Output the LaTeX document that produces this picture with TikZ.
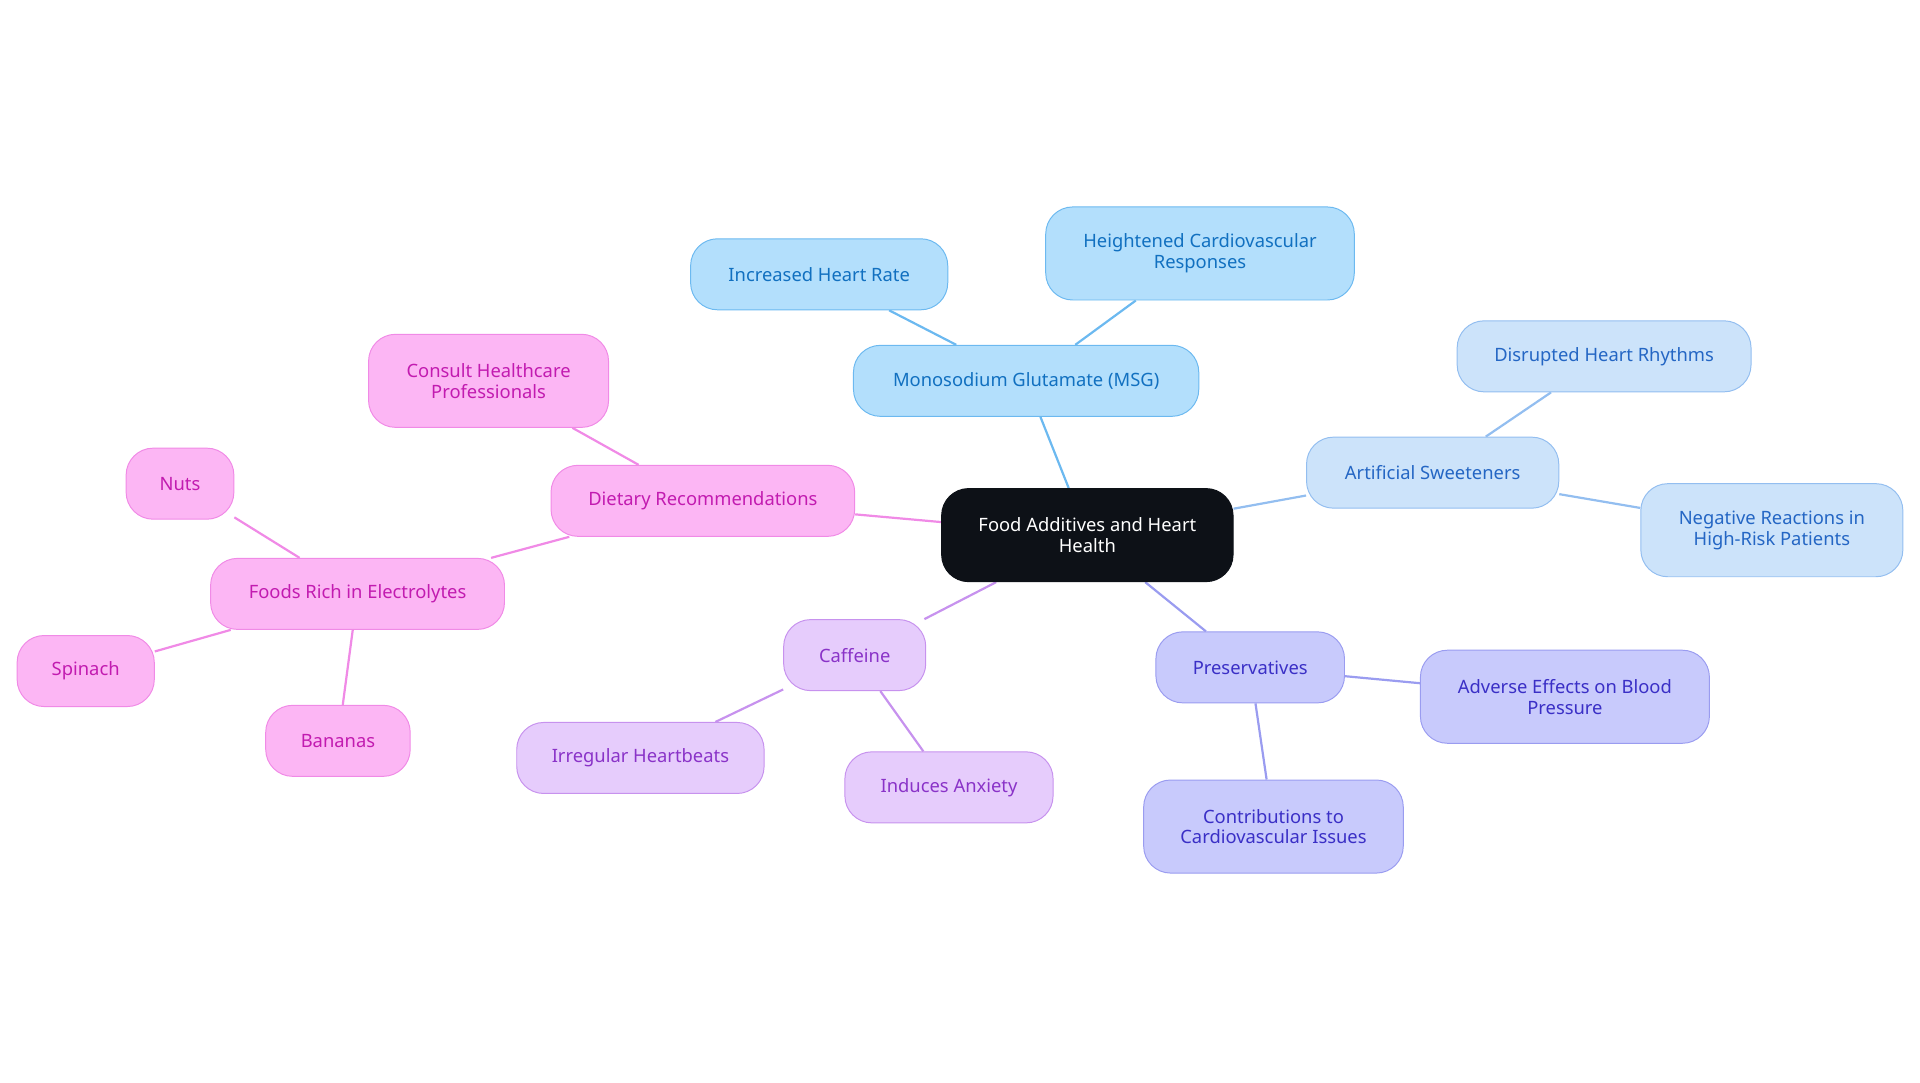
\documentclass[tikz,border=0pt]{standalone}
\usepackage{fontspec}
\setmainfont{Noto Sans}
\usetikzlibrary{backgrounds}
\definecolor{cA}{HTML}{B3DFFC}\definecolor{bA}{HTML}{6CB9F0}\definecolor{tA}{HTML}{1170C0}
\definecolor{cB}{HTML}{CCE3FA}\definecolor{bB}{HTML}{93BEF0}\definecolor{tB}{HTML}{2466C4}
\definecolor{cC}{HTML}{C8CAFC}\definecolor{bC}{HTML}{9A9CF0}\definecolor{tC}{HTML}{3A2FC6}
\definecolor{cD}{HTML}{E6CCFC}\definecolor{bD}{HTML}{C792EE}\definecolor{tD}{HTML}{8A33C8}
\definecolor{cE}{HTML}{FCB6F4}\definecolor{bE}{HTML}{F08AE6}\definecolor{tE}{HTML}{C21BB0}
\definecolor{dark}{HTML}{0D1117}
\tikzset{
 box/.style={rounded corners=22pt,align=center,font=\fontsize{15}{17}\selectfont,inner sep=0pt,line width=0.8pt},
 gA/.style={box,fill=cA,draw=bA,text=tA},
 gB/.style={box,fill=cB,draw=bB,text=tB},
 gC/.style={box,fill=cC,draw=bC,text=tC},
 gD/.style={box,fill=cD,draw=bD,text=tD},
 gE/.style={box,fill=cE,draw=bE,text=tE},
 ln/.style={line width=1.8pt}
}
\begin{document}
\begin{tikzpicture}[x=1pt,y=-1pt]
\useasboundingbox (0,0) rectangle (1568,884);
\node[box,fill=dark,draw=dark,text=white,minimum width=238pt,minimum height=76pt] (c) at (888,437) {Food Additives and Heart\\Health};
\node[gA,minimum width=282pt,minimum height=58pt] (msg) at (838,311) {Monosodium Glutamate (MSG)};
\node[gA,minimum width=210pt,minimum height=58pt] (ihr) at (669,224) {Increased Heart Rate};
\node[gA,minimum width=252pt,minimum height=76pt] (hcr) at (980,207) {Heightened Cardiovascular\\Responses};
\node[gB,minimum width=206pt,minimum height=58pt] (as) at (1170,386) {Artificial Sweeteners};
\node[gB,minimum width=240pt,minimum height=58pt] (dhr) at (1310,291) {Disrupted Heart Rhythms};
\node[gB,minimum width=214pt,minimum height=76pt] (nr) at (1447,433) {Negative Reactions in\\High-Risk Patients};
\node[gC,minimum width=154pt,minimum height=58pt] (pr) at (1021,545) {Preservatives};
\node[gC,minimum width=236pt,minimum height=76pt] (ae) at (1278,569) {Adverse Effects on Blood\\Pressure};
\node[gC,minimum width=212pt,minimum height=76pt] (cc) at (1040,675) {Contributions to\\Cardiovascular Issues};
\node[gD,minimum width=116pt,minimum height=58pt] (caf) at (698,535) {Caffeine};
\node[gD,minimum width=202pt,minimum height=58pt] (ih) at (523,619) {Irregular Heartbeats};
\node[gD,minimum width=170pt,minimum height=58pt] (ia) at (775,643) {Induces Anxiety};
\node[gE,minimum width=248pt,minimum height=58pt] (dr) at (574,409) {Dietary Recommendations};
\node[gE,minimum width=196pt,minimum height=76pt] (ch) at (399,311) {Consult Healthcare\\Professionals};
\node[gE,minimum width=240pt,minimum height=58pt] (fe) at (292,485) {Foods Rich in Electrolytes};
\node[gE,minimum width=88pt,minimum height=58pt] (nu) at (147,395) {Nuts};
\node[gE,minimum width=112pt,minimum height=58pt] (sp) at (70,548) {Spinach};
\node[gE,minimum width=118pt,minimum height=58pt] (ba) at (276,605) {Bananas};
\begin{scope}[on background layer]
\draw[ln,bA] (c)--(msg) (msg)--(ihr) (msg)--(hcr);
\draw[ln,bB] (c)--(as) (as)--(dhr) (as)--(nr);
\draw[ln,bC] (c)--(pr) (pr)--(ae) (pr)--(cc);
\draw[ln,bD] (c)--(caf) (caf)--(ih) (caf)--(ia);
\draw[ln,bE] (c)--(dr) (dr)--(ch) (dr)--(fe) (fe)--(nu) (fe)--(sp) (fe)--(ba);
\end{scope}
\end{tikzpicture}
\end{document}
